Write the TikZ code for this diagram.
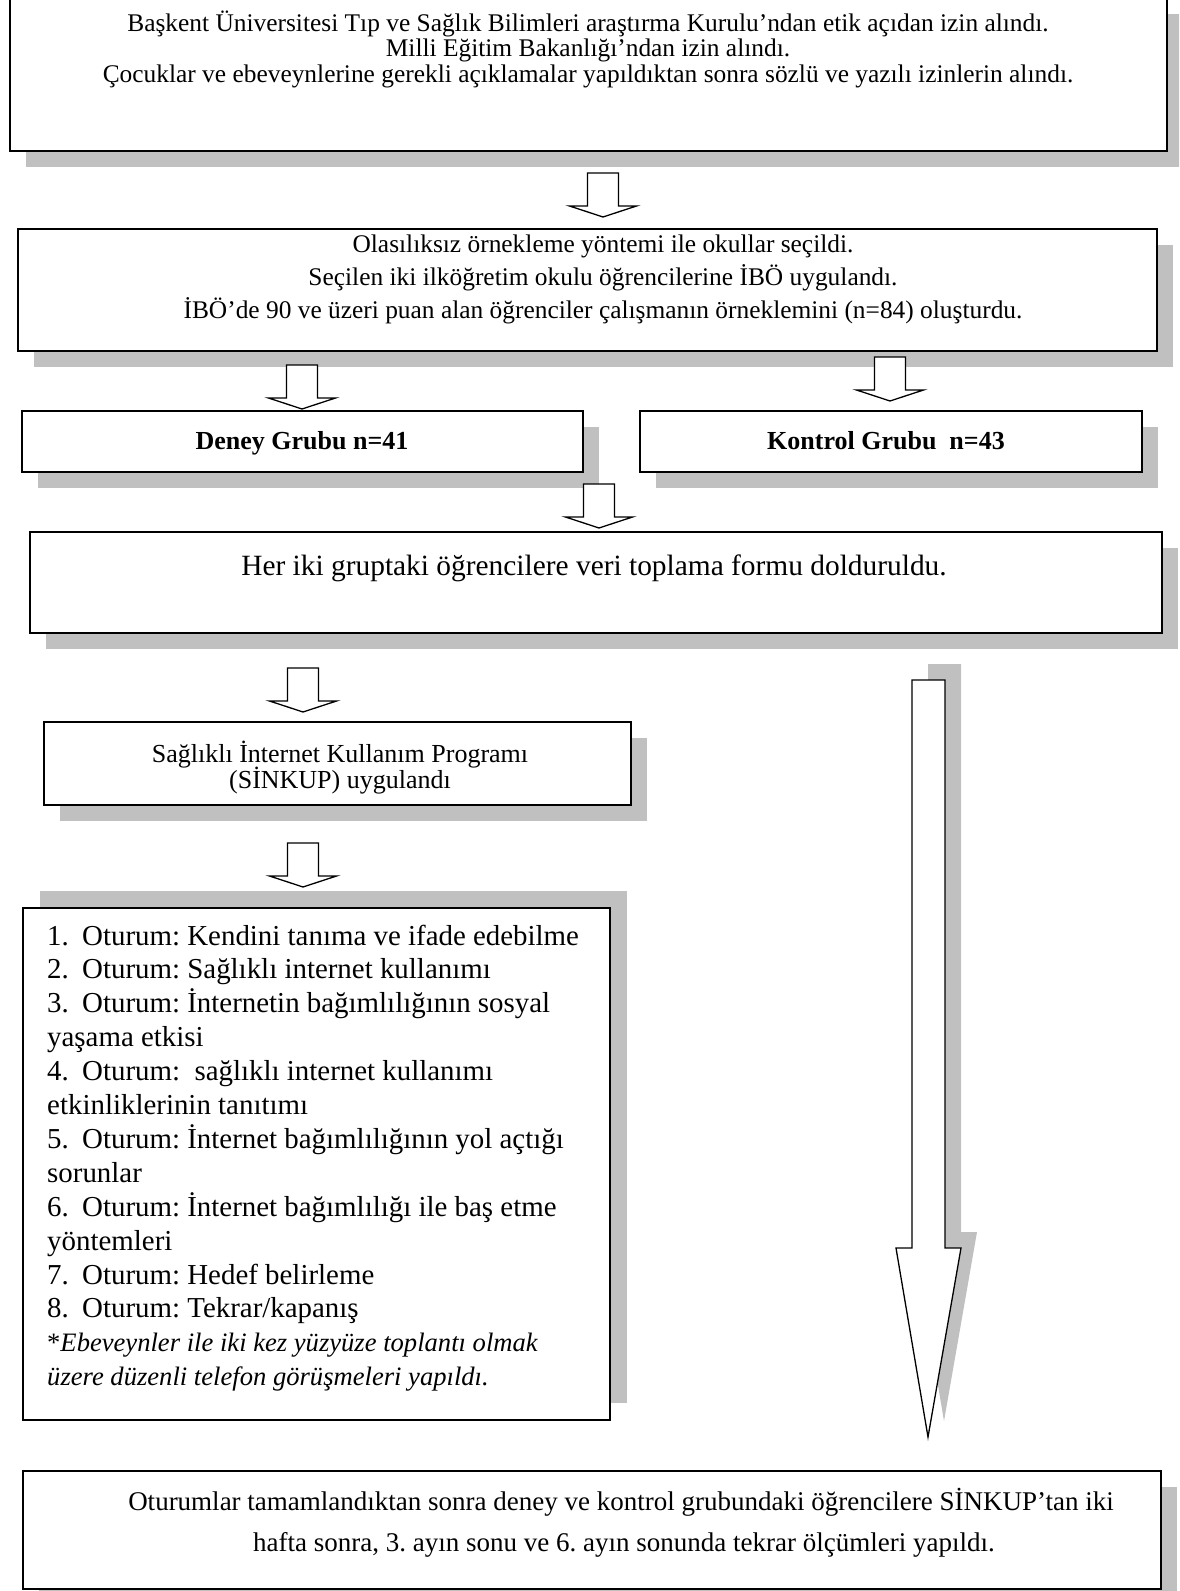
\documentclass[tikz,border=0pt]{standalone}
\usepackage{fontspec}
\setmainfont{Liberation Serif}
\usetikzlibrary{shadows}
\definecolor{shadowgray}{RGB}{192,192,192}
\frenchspacing
\begin{document}
\begin{tikzpicture}[x=1pt,y=-1pt,
  plainbox/.style={draw=black, line width=1.5pt, fill=white, rectangle, inner sep=0pt, outer sep=0pt, anchor=north west},
  box/.style={plainbox, drop shadow={shadow xshift=16pt, shadow yshift=-16pt, fill=shadowgray, opacity=1, draw=none}},
  boxup/.style={plainbox, drop shadow={shadow xshift=17pt, shadow yshift=17pt, fill=shadowgray, opacity=1, draw=none}},
  arrowline/.style={draw=black, line width=1.3pt, fill=white, line join=miter},
  txt/.style={inner sep=0pt, anchor=base},
  ltxt/.style={inner sep=0pt, anchor=base west},
  fa/.style={font=\fontsize{25.4}{30}\selectfont},
  fg/.style={font=\fontsize{26}{30}\selectfont\bfseries},
  fh/.style={font=\fontsize{29.4}{34}\selectfont},
  fb/.style={font=\fontsize{28.9}{34}\selectfont},
  fc/.style={font=\fontsize{27}{32}\selectfont},
  fi/.style={font=\fontsize{26.6}{31}\selectfont\itshape},
  pics/dnarrow/.style={code={
    \draw[arrowline] (-15.5,0) -- (15.5,0) -- (15.5,33) -- (33.5,33) -- (0,44) -- (-33.5,33) -- (-15.5,33) -- cycle;
  }}
]
\useasboundingbox (0,0) rectangle (1179,1591);
\clip (0,0) rectangle (1179,1591);

% boxes
\node[box, minimum width=1157pt, minimum height=153pt] (b1) at (10,-2) {};
\node[box, minimum width=1139pt, minimum height=122pt] (b2) at (18,229) {};
\node[box, minimum width=561pt, minimum height=61pt] (b3) at (22,411) {};
\node[box, minimum width=502pt, minimum height=61pt] (b4) at (640,411) {};
\node[box, minimum width=1132pt, minimum height=101pt] (b5) at (30,532) {};
\node[box, minimum width=587pt, minimum height=83pt] (b6) at (44,722) {};
\node[boxup, minimum width=587pt, minimum height=512pt] (b7) at (23,908) {};
\node[box, minimum width=1138pt, minimum height=118pt] (b8) at (23,1471) {};

% small block arrows
\pic at (603,173) {dnarrow};
\pic at (302,365) {dnarrow};
\pic at (890,357) {dnarrow};
\pic at (599,484) {dnarrow};
\pic at (303,668) {dnarrow};
\pic at (303,843) {dnarrow};

% big arrow with shadow
\fill[shadowgray] (928,664) -- (961,664) -- (961,1232) -- (977,1232) -- (944,1421) -- (912,1232) -- (928,1232) -- cycle;
\draw[arrowline] (912,680) -- (945,680) -- (945,1248) -- (961,1248) -- (928,1437) -- (896,1248) -- (912,1248) -- cycle;

% box 1 text
\node[txt, fa] (t1a) at (588,31) {Başkent Üniversitesi Tıp ve Sağlık Bilimleri araştırma Kurulu’ndan etik açıdan izin alındı.};
\node[txt, fa] (t1b) at (588,56) {Milli Eğitim Bakanlığı’ndan izin alındı.};
\node[txt, fa] (t1c) at (588,82) {Çocuklar ve ebeveynlerine gerekli açıklamalar yapıldıktan sonra sözlü ve yazılı izinlerin alındı.};

% box 2 text
\node[txt, fa] (t2a) at (603,252) {Olasılıksız örnekleme yöntemi ile okullar seçildi.};
\node[txt, fa] (t2b) at (603,285) {Seçilen iki ilköğretim okulu öğrencilerine İBÖ uygulandı.};
\node[txt, fa] (t2c) at (603,318) {İBÖ’de 90 ve üzeri puan alan öğrenciler çalışmanın örneklemini (n=84) oluşturdu.};

% group boxes
\node[txt, fg] (t3) at (302,449) {Deney Grubu n=41};
\node[txt, fg] (t4) at (886,449) {Kontrol Grubu\ \ n=43};

% box 4
\node[txt, fh] (t5) at (594,575) {Her iki gruptaki öğrencilere veri toplama formu dolduruldu.};

% box 5
\node[txt, fa, font=\fontsize{26}{30}\selectfont] (t6a) at (340,762) {Sağlıklı İnternet Kullanım Programı};
\node[txt, fa, font=\fontsize{26}{30}\selectfont] (t6b) at (340,788) {(SİNKUP) uygulandı};

% box 6 list
\node[ltxt, fb] (l1) at (47,945) {\makebox[35pt][l]{1.}Oturum: Kendini tanıma ve ifade edebilme};
\node[ltxt, fb] (l2) at (47,978.9) {\makebox[35pt][l]{2.}Oturum: Sağlıklı internet kullanımı};
\node[ltxt, fb] (l3) at (47,1012.8) {\makebox[35pt][l]{3.}Oturum: İnternetin bağımlılığının sosyal};
\node[ltxt, fb] (l3b) at (47,1046.7) {yaşama etkisi};
\node[ltxt, fb] (l4) at (47,1080.6) {\makebox[35pt][l]{4.}Oturum:\ \ sağlıklı internet kullanımı};
\node[ltxt, fb] (l4b) at (47,1114.5) {etkinliklerinin tanıtımı};
\node[ltxt, fb] (l5) at (47,1148.4) {\makebox[35pt][l]{5.}Oturum: İnternet bağımlılığının yol açtığı};
\node[ltxt, fb] (l5b) at (47,1182.3) {sorunlar};
\node[ltxt, fb] (l6) at (47,1216.2) {\makebox[35pt][l]{6.}Oturum: İnternet bağımlılığı ile baş etme};
\node[ltxt, fb] (l6b) at (47,1250.1) {yöntemleri};
\node[ltxt, fb] (l7) at (47,1284) {\makebox[35pt][l]{7.}Oturum: Hedef belirleme};
\node[ltxt, fb] (l8) at (47,1317.9) {\makebox[35pt][l]{8.}Oturum: Tekrar/kapanış};
\node[ltxt, fi] (n1) at (47,1351.8) {\upshape*\itshape Ebeveynler ile iki kez yüzyüze toplantı olmak};
\node[ltxt, fi] (n2) at (47,1385.7) {üzere düzenli telefon görüşmeleri yapıldı.};

% bottom box
\node[txt, fc] (t8a) at (621,1510) {Oturumlar tamamlandıktan sonra deney ve kontrol grubundaki öğrencilere SİNKUP’tan iki};
\node[txt, fc] (t8b) at (624,1551) {hafta sonra, 3. ayın sonu ve 6. ayın sonunda tekrar ölçümleri yapıldı.};
\end{tikzpicture}
\end{document}
